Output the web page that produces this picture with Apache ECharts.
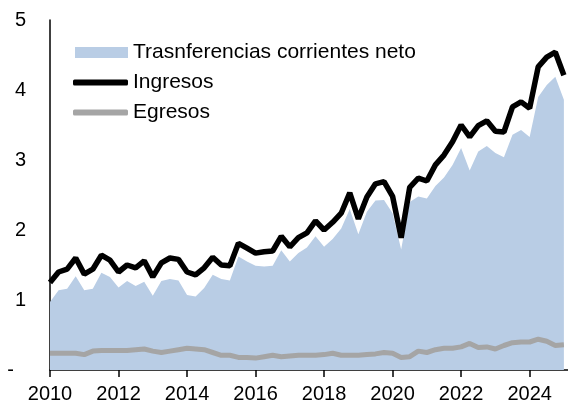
<!DOCTYPE html>
<html>
<head>
<meta charset="utf-8">
<script src="https://cdn.jsdelivr.net/npm/echarts@6/dist/echarts.min.js"></script>
<style>
html,body{margin:0;padding:0;background:#fff;}
#c{width:568px;height:407px;}
</style>
</head>
<body>
<div id="c"></div>
<script>
// Quarterly observations, 2010 Q1 .. 2025 Q1
const startYear = 2010;
const transferencias = [0.97,1.14,1.16,1.34,1.14,1.16,1.39,1.33,1.18,1.27,1.20,1.26,1.06,1.27,1.30,1.28,
  1.07,1.05,1.17,1.36,1.30,1.28,1.62,1.55,1.49,1.48,1.49,1.71,1.55,1.67,1.75,1.91,
  1.76,1.87,2.02,2.30,1.94,2.26,2.42,2.43,2.24,1.72,2.40,2.48,2.45,2.63,2.75,2.93,
  3.17,2.85,3.12,3.20,3.10,3.04,3.36,3.43,3.33,3.90,4.07,4.19,3.86];
const ingresos = [1.25,1.40,1.44,1.60,1.37,1.44,1.64,1.57,1.40,1.50,1.46,1.56,1.33,1.53,1.60,1.58,
  1.40,1.36,1.46,1.61,1.50,1.49,1.81,1.74,1.67,1.69,1.70,1.91,1.76,1.89,1.96,2.13,
  2.00,2.11,2.24,2.53,2.16,2.47,2.66,2.69,2.48,1.89,2.61,2.74,2.70,2.93,3.07,3.26,
  3.50,3.33,3.49,3.56,3.41,3.40,3.76,3.83,3.74,4.33,4.47,4.54,4.21];
const egresos = [0.24,0.24,0.24,0.24,0.22,0.27,0.28,0.28,0.28,0.28,0.29,0.30,0.27,0.25,0.27,0.29,
  0.31,0.30,0.29,0.25,0.21,0.21,0.18,0.18,0.17,0.19,0.21,0.19,0.20,0.21,0.21,0.21,
  0.22,0.24,0.21,0.21,0.21,0.22,0.23,0.25,0.24,0.18,0.19,0.27,0.25,0.29,0.31,0.31,
  0.33,0.38,0.32,0.33,0.30,0.35,0.39,0.40,0.40,0.44,0.41,0.35,0.36];
const xTicks = [2010,2012,2014,2016,2018,2020,2022,2024];
const yTicks = [0,1,2,3,4,5];
const names = ['Trasnferencias corrientes neto','Ingresos','Egresos'];

const t = ingresos.map((_, i) => startYear + i / 4);
const pair = arr => arr.map((v, i) => [t[i], v]);

const FONT = 'Liberation Sans, Arial, sans-serif';
const chart = echarts.init(document.getElementById('c'), null, {renderer:'canvas'});
const legendText = {fontFamily: FONT, fontSize: 21, color: '#000'};
chart.setOption({
  animation: false,
  textStyle: {fontFamily: FONT},
  grid: {left: 50, right: 0, top: 20, bottom: 37, containLabel: false},
  legend: [
    {left: 75, top: 42, padding: 0, itemWidth: 53, itemHeight: 11, icon: 'rect', itemGap: 0,
     data: [names[0]], textStyle: legendText, selectedMode: false, itemStyle:{borderWidth:0}},
    {left: 73, top: 72, padding: 0, itemWidth: 55, itemHeight: 6, icon: 'roundRect', itemGap: 0,
     data: [names[1]], textStyle: legendText, selectedMode: false, itemStyle:{borderWidth:0}},
    {left: 73, top: 102, padding: 0, itemWidth: 55, itemHeight: 6, icon: 'roundRect', itemGap: 0,
     data: [names[2]], textStyle: legendText, selectedMode: false, itemStyle:{borderWidth:0}}
  ],
  xAxis: {
    type: 'value', min: 2010, max: 2025.12, interval: 2,
    axisLine: {show: true, lineStyle: {color: '#000', width: 1.5}},
    axisTick: {show: true, customValues: xTicks, length: 7, lineStyle: {color: '#000', width: 1.5}},
    axisLabel: {customValues: xTicks, formatter: v => String(Math.round(v)), color: '#000', fontSize: 20, fontFamily: FONT, margin: 14},
    splitLine: {show: false}
  },
  yAxis: {
    type: 'value', min: 0, max: 5, interval: 1,
    axisLine: {show: true, lineStyle: {color: '#000', width: 1.5}},
    axisTick: {show: false},
    axisLabel: {
      color: '#000', fontSize: 20, fontFamily: FONT, margin: 24,
      formatter: v => v === 0 ? '{d|-}' : String(v),
      rich: {d: {fontSize: 20, fontFamily: FONT, color: '#000', padding: [0, 12, 0, 0]}}
    },
    splitLine: {show: false}
  },
  series: [
    {name: names[0], type: 'line', data: pair(transferencias), showSymbol: false, symbol: 'none',
     color: '#B9CDE5', lineStyle: {width: 0}, areaStyle: {color: '#B9CDE5', opacity: 1}, z: 1},
    {name: names[2], type: 'line', data: pair(egresos), showSymbol: false, symbol: 'none',
     color: '#A5A5A5', lineStyle: {width: 5, color: '#A5A5A5'}, z: 2},
    {name: names[1], type: 'line', data: pair(ingresos), showSymbol: false, symbol: 'none',
     color: '#000', lineStyle: {width: 5.5, color: '#000'}, z: 3}
  ]
});
</script>
</body>
</html>
